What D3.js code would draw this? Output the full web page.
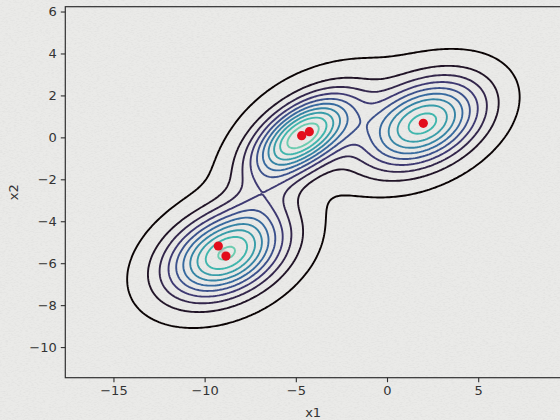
<!DOCTYPE html>
<html><head><meta charset="utf-8">
<script src="https://cdn.jsdelivr.net/npm/d3@7"></script>
<style>body{margin:0;background:#eaeae8} svg{display:block}</style>
</head><body>
<svg id="chart" width="560" height="420"></svg>
<script>
// Gaussian mixture components, in data units: centre, major/minor spread, orientation (deg), peak height
// (three clusters with a broad shoulder each, plus a low ridge joining the two left clusters)
const compX     = [-8.9, -8.7, -4.6, -4.1,  2.0,  1.3, -6.8];
const compY     = [-5.6, -5.3,  0.1,  0.6,  0.65, 1.2, -2.8];
const compMajor = [2.25,  2.8,  2.0,  3.2,  2.25, 3.0,  2.0];
const compMinor = [1.25,  2.1,  0.95, 2.0,  1.25, 2.0,  1.0];
const compAngle = [ 19,   15,   28,   15,   20,   12,   52];
const compPeak  = [0.9,   0.06, 0.95, 0.08, 0.86, 0.05, 0.13];

// contour levels (density)
const levels = [0.05, 0.152, 0.254, 0.356, 0.458, 0.56, 0.662, 0.764, 0.866, 0.968];

// highlighted points
const markX = [-9.25, -8.83, -4.68, -4.26, 1.99];
const markY = [-5.18, -5.66,  0.08,  0.27, 0.67];
const markGroups = [[0, 1], [2, 3], [4]];

const xTicks = [-15, -10, -5, 0, 5];
const yTicks = [6, 4, 2, 0, -2, -4, -6, -8, -10];
const xDomain = [-17.64, 9.54];
const yDomain = [-11.46, 6.23];

const W = 560, H = 420;
const padL = 65.3, padR = 561, padT = 6.7, padB = 377.7;

const svg = d3.select("#chart");
const defs = svg.append("defs");

// paper grain
const grain = defs.append("filter").attr("id", "grain").attr("x", 0).attr("y", 0).attr("width", "100%").attr("height", "100%");
grain.append("feTurbulence").attr("type", "fractalNoise").attr("baseFrequency", "0.35 1.2").attr("numOctaves", 2).attr("seed", 3).attr("result", "n");
grain.append("feColorMatrix").attr("type", "matrix")
  .attr("values", "0 0 0 0 0.5  0 0 0 0 0.5  0 0 0 0 0.5  0 0 0 -1.1 0.62");
const soft = defs.append("filter").attr("id", "soft").attr("x", "-50%").attr("y", "-50%").attr("width", "200%").attr("height", "200%");
soft.append("feGaussianBlur").attr("stdDeviation", 0.7);
const haze = defs.append("filter").attr("id", "haze").attr("x", "-50%").attr("y", "-50%").attr("width", "200%").attr("height", "200%");
haze.append("feGaussianBlur").attr("stdDeviation", 1.6);

svg.append("rect").attr("width", W).attr("height", H).attr("fill", "#eaeae8");
svg.append("rect").attr("width", W).attr("height", H).attr("filter", "url(#grain)").attr("opacity", 0.35);

const x = d3.scaleLinear().domain(xDomain).range([padL, padR]);
const y = d3.scaleLinear().domain(yDomain).range([padB, padT]);

// mixture density
const comps = compX.map((cx, k) => {
  const t = compAngle[k] * Math.PI / 180;
  return {cx, cy: compY[k], c: Math.cos(t), s: Math.sin(t),
          ia: 1 / (compMajor[k] * compMajor[k]), ib: 1 / (compMinor[k] * compMinor[k]), p: compPeak[k]};
});
function density(px, py) {
  let sum = 0;
  for (const m of comps) {
    const dx = px - m.cx, dy = py - m.cy;
    const u = m.c * dx + m.s * dy, v = -m.s * dx + m.c * dy;
    sum += m.p * Math.exp(-0.5 * (u * u * m.ia + v * v * m.ib));
  }
  return sum;
}

const step = 2;
const nx = Math.ceil((padR - padL) / step) + 1;
const ny = Math.ceil((padB - padT) / step) + 1;
const values = new Float64Array(nx * ny);
for (let j = 0; j < ny; j++) {
  for (let i = 0; i < nx; i++) {
    values[j * nx + i] = density(x.invert(padL + i * step), y.invert(padT + j * step));
  }
}

// mako colour ramp, stops at 0, 1/7 ... 6/7, 1
const makoStops = ["#0b0405", "#2e1e3b", "#413d7b", "#37659e", "#348fa7", "#40b7ad", "#8bdab2", "#def5e5"];
const mako = d3.scaleLinear().domain([0, 1/7, 2/7, 3/7, 4/7, 5/7, 6/7, 1])
  .range(makoStops).interpolate(d3.interpolateRgb);

const contours = d3.contours().size([nx, ny]).thresholds(levels)(values);
const proj = d3.geoTransform({
  point(gx, gy) { this.stream.point(padL + (gx - 0.5) * step, padT + (gy - 0.5) * step); }
});
const path = d3.geoPath(proj);

svg.append("clipPath").attr("id", "plotclip").append("rect")
  .attr("x", padL).attr("y", padT).attr("width", padR - padL).attr("height", padB - padT);

const plot = svg.append("g").attr("clip-path", "url(#plotclip)");
plot.selectAll("path.iso").data(contours).join("path")
  .attr("class", "iso")
  .attr("d", path)
  .attr("fill", "none")
  .attr("stroke", (d, i) => mako(i / (levels.length - 1) * 0.8))
  .attr("stroke-width", 1.9)
  .attr("stroke-linejoin", "round");

// faint trail between neighbouring points
plot.selectAll("path.trail").data(markGroups.filter(g => g.length > 1)).join("path")
  .attr("class", "trail")
  .attr("d", g => d3.line()(g.map(k => [x(markX[k]), y(markY[k])])))
  .attr("stroke", "#b8b8b8").attr("stroke-width", 5).attr("stroke-linecap", "round")
  .attr("opacity", 0.7).attr("filter", "url(#haze)");

plot.selectAll("circle.mark").data(markX.map((v, k) => k)).join("circle")
  .attr("class", "mark")
  .attr("cx", k => x(markX[k])).attr("cy", k => y(markY[k]))
  .attr("r", 4.6).attr("fill", "#e3101b").attr("filter", "url(#soft)");

// frame
const ink = "#2f2f2f";
svg.append("rect").attr("x", padL).attr("y", padT).attr("width", padR - padL).attr("height", padB - padT)
  .attr("fill", "none").attr("stroke", ink).attr("stroke-width", 1.2);

const font = "'DejaVu Sans', sans-serif";
const xAxis = svg.append("g").attr("transform", `translate(0,${padB})`)
  .call(d3.axisBottom(x).tickValues(xTicks).tickSize(4.5).tickPadding(4).tickFormat(d3.format("d")));
const yAxis = svg.append("g").attr("transform", `translate(${padL},0)`)
  .call(d3.axisLeft(y).tickValues(yTicks).tickSize(4.5).tickPadding(4).tickFormat(d3.format("d")));
[xAxis, yAxis].forEach(a => {
  a.select(".domain").remove();
  a.selectAll(".tick line").attr("stroke", ink).attr("stroke-width", 1.1);
  a.selectAll(".tick text").attr("fill", "#333").style("font-family", font).style("font-size", "13px");
});

svg.append("text").attr("x", (padL + padR) / 2).attr("y", 417).attr("text-anchor", "middle")
  .style("font-family", font).style("font-size", "13px").attr("fill", "#333").text("x1");
svg.append("text").attr("transform", `translate(18,${(padT + padB) / 2}) rotate(-90)`).attr("text-anchor", "middle")
  .style("font-family", font).style("font-size", "13px").attr("fill", "#333").text("x2");
</script>
</body></html>
